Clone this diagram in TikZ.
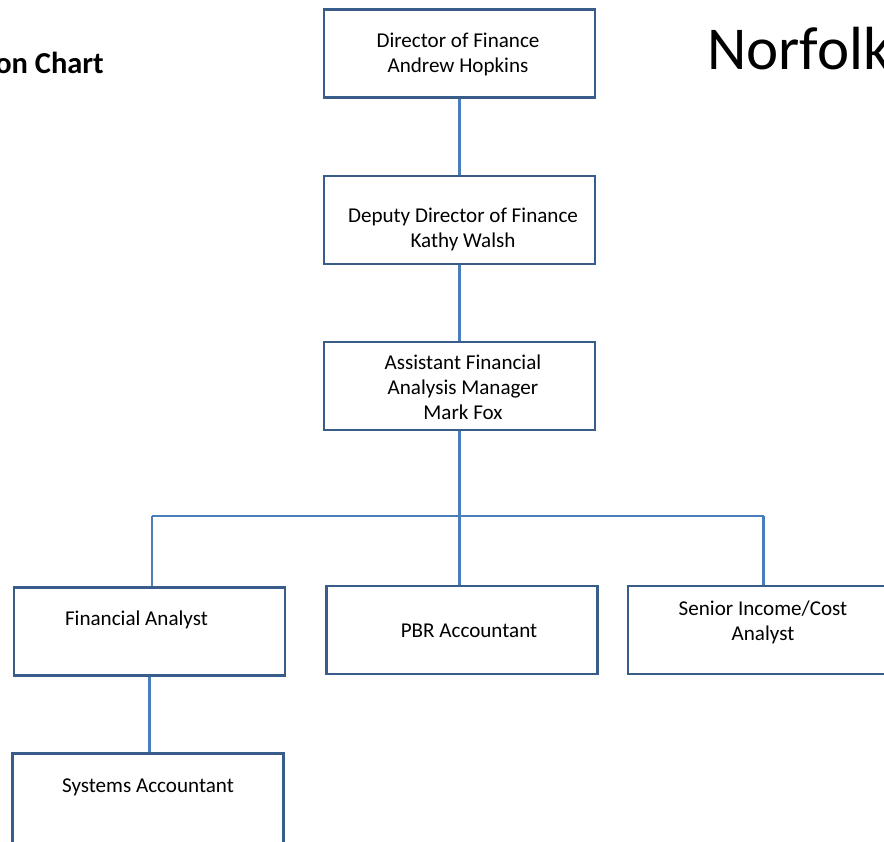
\documentclass[tikz,border=0pt]{standalone}
\usepackage{fontspec}
\setmainfont{Carlito}
\usepackage{tikz}

\definecolor{boxline}{HTML}{385D8A}
\definecolor{linkline}{HTML}{4A7EBB}

\tikzset{
	post/.style={draw=boxline, line width=2.5pt, fill=white, minimum width=8.13cm, minimum height=2.64cm, inner sep=0pt},
	lbl/.style={align=center, inner sep=0pt, font=\fontsize{18}{21.3}\selectfont},
	link/.style={draw=linkline, line width=1.9pt}
}

\begin{document}
\begin{tikzpicture}[x=0.03cm, y=-0.03cm]
	
	\useasboundingbox (0,0) rectangle (884,842);
	\clip (0,0) rectangle (884,842);
	
	% boxes
	\node[post] (dir) at (459.5,53.5) {};
	\node[post] (dep) at (459.5,220) {};
	\node[post] (afm) at (459.5,386) {};
	\node[post] (fa) at (149.5,631.5) {};
	\node[post] (pbr) at (462,630) {};
	\node[post] (sic) at (763.5,630) {};
	\node[post, minimum height=2.85cm] (sys) at (148,801) {};
	
	% connectors
	\coordinate (barL) at (152,516);
	\coordinate (barR) at (763.5,516);
	\draw[link] (dir.south) -- (dep.north);
	\draw[link] (dep.south) -- (afm.north);
	\draw[link] (afm.south) -- (afm.south |- pbr.north);
	\draw[link] (barL) -- (barR);
	\draw[link] (barL) -- (barL |- fa.north);
	\draw[link] (barR) -- (sic.north);
	\draw[link] (fa.south) -- (fa.south |- sys.north);
	
	% texts
	\node[lbl] (dir-t) at (458,54) {Director of Finance\\Andrew Hopkins};
	\node[lbl] (dep-t) at (463,229) {Deputy Director of Finance\\Kathy Walsh};
	\node[lbl] (afm-t) at (463,387) {Assistant Financial\\Analysis Manager\\Mark Fox};
	\node[lbl] (fa-t) at (136.5,620) {Financial Analyst};
	\node[lbl] (pbr-t) at (469,631) {PBR Accountant};
	\node[lbl] (sic-t) at (763,622) {Senior Income/Cost\\Analyst};
	\node[lbl] (sys-t) at (148,787) {Systems Accountant};
	
	\node[anchor=base east, inner sep=0pt, font=\fontsize{26}{31}\selectfont\bfseries] (title) at (104,74) {on Chart};
	\node[anchor=base west, inner sep=0pt, font=\fontsize{52}{62}\selectfont] (org) at (707,70) {Norfolk};
	
\end{tikzpicture}
\end{document}
